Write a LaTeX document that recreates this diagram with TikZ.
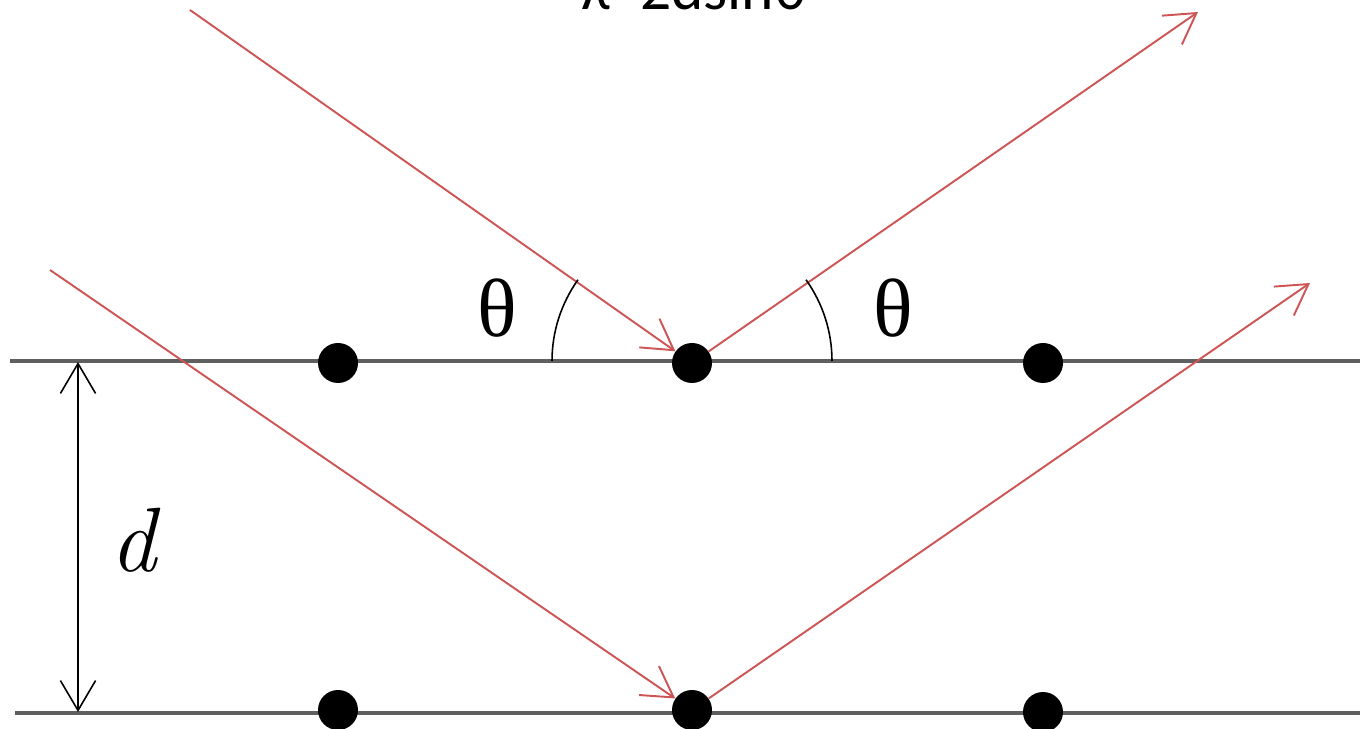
\documentclass[tikz,border=0pt]{standalone}
\usepackage{fontspec}
\usetikzlibrary{arrows.meta}
\newfontfamily\carl{Carlito}
\newfontfamily\lserif{Liberation Serif}
\definecolor{raycol}{RGB}{205,85,85}
\definecolor{planecol}{RGB}{95,95,95}
\begin{document}
\begin{tikzpicture}[x=0.02cm,y=-0.02cm,
  plane/.style={draw=planecol,line width=2.2pt},
  atom/.style={circle,fill=black,inner sep=0pt,minimum size=40*0.02cm},
  ray/.style={draw=raycol,line width=1.1pt,-{Straight Barb[length=17pt,width=20pt,line width=1.1pt]}},
  dim/.style={draw=black,line width=0.9pt,{Straight Barb[length=17pt,width=20pt]}-{Straight Barb[length=17pt,width=20pt]}},
  anglearc/.style={draw=black,line width=0.9pt},
  thlabel/.style={font=\lserif\fontsize{47}{47}\selectfont}]
\useasboundingbox (0,0) rectangle (1360,729);
\clip (0,0) rectangle (1360,729);
% planes
\coordinate (pT1) at (10,361);
\coordinate (pT2) at (1360,361);
\coordinate (pB1) at (15,713);
\coordinate (pB2) at (1360,713);
\draw[plane] (pT1) -- (pT2);
\draw[plane] (pB1) -- (pB2);
% atoms
\node[atom] (a1) at (338,363) {};
\node[atom] (a2) at (692,363) {};
\node[atom] (a3) at (1043,363) {};
\node[atom] (b1) at (338,710) {};
\node[atom] (b2) at (692,710) {};
\node[atom] (b3) at (1043,712) {};
% rays
\coordinate (in1) at (190,10);
\coordinate (out1) at (1198,12);
\coordinate (in2) at (50,270);
\coordinate (out2) at (1310,283);
\draw[ray] (in1) -- (a2);
\draw[ray] (a2) -- (out1);
\draw[ray] (in2) -- (b2);
\draw[ray] (b2) -- (out2);
% angle arcs
\draw[anglearc] (552,361) arc[start angle=180,end angle=215.5,radius=140];
\draw[anglearc] (832,361) arc[start angle=0,end angle=-35.5,radius=140];
\node[thlabel] (th1) at (497,308) {θ};
\node[thlabel] (th2) at (893,308) {θ};
% spacing
\coordinate (d1) at (78,362);
\coordinate (d2) at (78,712);
\draw[dim] (d1) -- (d2);
\node[font=\itshape\fontsize{52}{52}\selectfont] (dl) at (133,540) {d};
% formula
\node[font=\carl\fontsize{35}{35}\selectfont,anchor=base,inner sep=0pt] (eq) at (694,10) {λ=2dsinθ};
\end{tikzpicture}
\end{document}
